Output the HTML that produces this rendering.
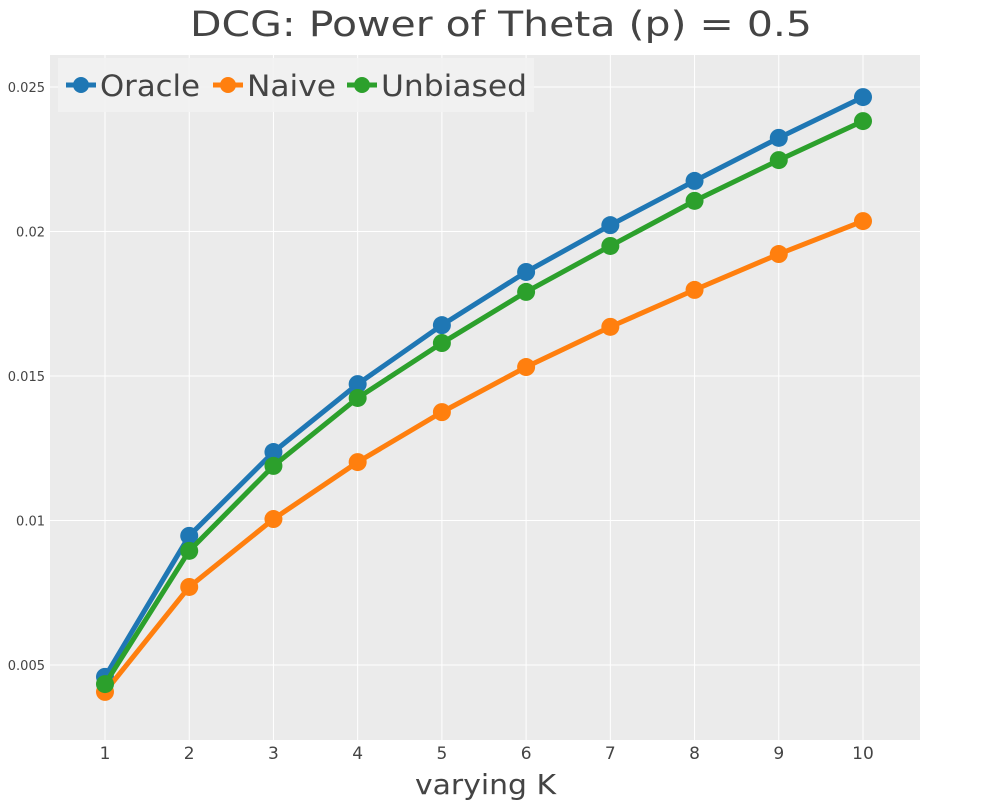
<!DOCTYPE html>
<html><head><meta charset="utf-8"><style>
body{margin:0;background:#fff;font-family:"DejaVu Sans","Liberation Sans",sans-serif}
</style></head><body>
<svg id="chart" width="1000" height="800" xmlns="http://www.w3.org/2000/svg" font-family="DejaVu Sans, Liberation Sans, sans-serif">
<rect x="0" y="0" width="1000" height="800" fill="#fff"/>
<rect x="50" y="55" width="870" height="685" fill="#ebebeb"/>
<g id="grid"></g><g id="series"></g><g id="ticks"></g>
<text x="190" y="36" font-size="35" fill="#444" textLength="622" lengthAdjust="spacingAndGlyphs">DCG: Power of Theta (p) = 0.5</text>
<text x="415" y="794" font-size="28" fill="#444" textLength="141" lengthAdjust="spacingAndGlyphs">varying K</text>
<g>
<rect x="58" y="58" width="476" height="54" fill="#f2f2f2" opacity="0.9"/>
<g><line x1="66" y1="85" x2="96" y2="85" stroke="#1f77b4" stroke-width="5"/><circle cx="81" cy="85" r="8" fill="#1f77b4"/><text x="100" y="96" font-size="29" fill="#444" textLength="100" lengthAdjust="spacingAndGlyphs">Oracle</text></g>
<g><line x1="213" y1="85" x2="243" y2="85" stroke="#ff7f0e" stroke-width="5"/><circle cx="228" cy="85" r="8" fill="#ff7f0e"/><text x="247" y="96" font-size="29" fill="#444" textLength="89" lengthAdjust="spacingAndGlyphs">Naive</text></g>
<g><line x1="347" y1="85" x2="377" y2="85" stroke="#2ca02c" stroke-width="5"/><circle cx="362" cy="85" r="8" fill="#2ca02c"/><text x="381" y="96" font-size="29" fill="#444" textLength="146" lengthAdjust="spacingAndGlyphs">Unbiased</text></g>
</g>
</svg>
<script>
const categories=[1,2,3,4,5,6,7,8,9,10];
const oracle=[0.00459,0.00947,0.01237,0.01472,0.01676,0.0186,0.02022,0.02175,0.02324,0.02465];
const naive=[0.00407,0.0077,0.01005,0.01202,0.01375,0.01531,0.0167,0.01798,0.01922,0.02036];
const unbiased=[0.00434,0.00895,0.01189,0.01424,0.01614,0.01791,0.0195,0.02106,0.02247,0.02382];
const yTicks=[0.005,0.01,0.015,0.02,0.025];
const yTickLabels=["0.005","0.01","0.015","0.02","0.025"];
const NS="http://www.w3.org/2000/svg";
const xS=k=>105+(k-1)*(863-105)/9;
const yS=v=>87+(0.025-v)*(144.5/0.005);
function mk(t,a,p){const e=document.createElementNS(NS,t);for(const k in a)e.setAttribute(k,a[k]);p.appendChild(e);return e;}
const grid=document.getElementById('grid'),ticks=document.getElementById('ticks'),ser=document.getElementById('series');
categories.forEach(k=>{
const l=mk('line',{x1:xS(k),x2:xS(k),y1:55,y2:740,stroke:'#fff','stroke-width':1},grid);


const t=mk('text',{x:xS(k),y:759,'text-anchor':'middle','font-size':17,fill:'#444'},ticks);t.textContent=k;


});
yTicks.forEach((v,i)=>{
const l=mk('line',{x1:50,x2:920,y1:yS(v),y2:yS(v),stroke:'#fff','stroke-width':1},grid);


const t=mk('text',{x:45,y:yS(v)+5,'text-anchor':'end','font-size':13,fill:'#444'},ticks);t.textContent=yTickLabels[i];


});
[[oracle,'#1f77b4','oracle'],[naive,'#ff7f0e','naive'],[unbiased,'#2ca02c','unbiased']].forEach(([d,c,n])=>{
const g=mk('g',{},ser);


const p=mk('polyline',{points:d.map((v,i)=>xS(categories[i])+','+yS(v)).join(' '),fill:'none',stroke:c,'stroke-width':5,'stroke-linejoin':'round'},g);


d.forEach((v,i)=>{const m=mk('circle',{cx:xS(categories[i]),cy:yS(v),r:9,fill:c},g);

});
});
</script>
</body></html>
